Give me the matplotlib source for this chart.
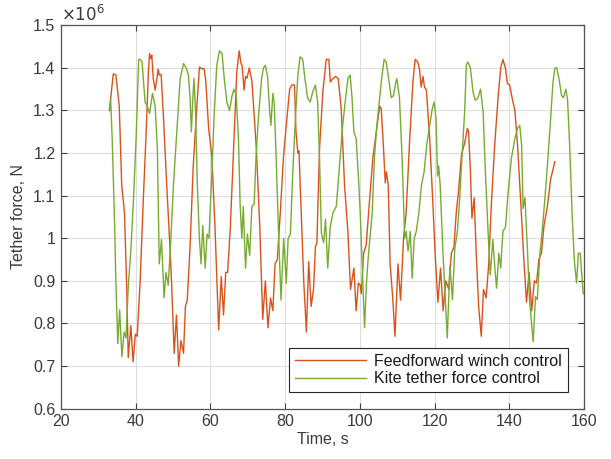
import matplotlib
matplotlib.use("Agg")
import matplotlib.pyplot as plt
import numpy as np

# Feedforward winch control (time s, force in 1e6 N)
t_ff = [32.95, 34.0, 34.7, 35.6, 36.25, 37.0, 37.6, 38.0, 38.7, 39.3, 39.9, 40.4, 41.2, 42.05, 42.8,
        43.4, 43.7, 44.0, 44.3, 44.7, 45.2, 45.6, 46.0, 46.3, 46.8, 47.4, 48.3, 49.2, 49.6, 50.3,
        50.9, 51.5, 52.1, 52.8, 53.3, 53.8, 54.55, 55.4, 56.3, 57.05, 57.7, 58.3, 58.75, 59.5, 60.4,
        61.25, 62.2, 62.9, 63.5, 64.1, 64.6, 65.3, 66.2, 67.05, 67.7, 68.2, 68.5, 69.0, 69.4, 69.8,
        70.4, 71.1, 72.3, 73.2, 74.0, 74.7, 75.4, 76.1, 76.7, 77.3, 77.9, 78.7, 79.55, 80.3, 81.2,
        81.8, 82.5, 82.9, 83.4, 83.7, 84.3, 85.0, 85.7, 86.3, 86.96, 87.6, 88.1, 88.5, 89.2, 90.1,
        91.0, 91.7, 92.1, 92.8, 93.5, 94.2, 95.0, 95.9, 96.8, 97.5, 98.4, 99.0, 99.6, 100.1, 100.4,
        101.0, 101.7, 102.6, 103.5, 104.4, 105.3, 105.7, 106.2, 106.8, 107.1, 107.6, 108.1, 108.8,
        109.4, 110.2, 110.9, 111.7, 112.4, 113.3, 114.2, 114.8, 115.5, 116.0, 116.4, 116.9, 117.3,
        117.8, 118.7, 119.55, 120.2, 120.9, 121.6, 122.3, 123.0, 123.8, 124.5, 125.2, 125.8, 126.4,
        127.2, 128.1, 128.8, 129.1, 129.6, 130.0, 130.6, 131.2, 131.8, 132.5, 133.1, 133.8, 134.5,
        135.2, 136.1, 137.0, 137.7, 138.3, 139.0, 139.5, 140.1, 140.75, 141.5, 142.2, 143.1, 143.8,
        144.6, 145.3, 146.0, 146.7, 147.3, 147.9, 148.6, 149.3, 150.2, 151.1, 152.2]
f_ff = [1.30, 1.386, 1.383, 1.31, 1.125, 1.06, 0.88, 0.72, 0.795, 0.71, 0.775, 0.77, 0.90, 1.095, 1.25,
        1.39, 1.434, 1.422, 1.43, 1.375, 1.348, 1.37, 1.397, 1.383, 1.385, 1.29, 1.125, 0.973, 0.896, 0.73,
        0.82, 0.70, 0.76, 0.73, 0.84, 0.855, 0.98, 1.17, 1.30, 1.402, 1.398, 1.398, 1.37, 1.26, 1.19,
        1.02, 0.785, 0.91, 0.82, 0.92, 0.92, 1.02, 1.21, 1.39, 1.44, 1.41, 1.405, 1.348, 1.38, 1.376,
        1.40, 1.37, 1.21, 1.03, 0.81, 0.90, 0.79, 0.86, 0.83, 0.94, 0.95, 1.06, 1.19, 1.265, 1.35,
        1.36, 1.36, 1.25, 1.20, 1.205, 1.06, 0.895, 0.78, 0.945, 0.84, 0.88, 0.98, 0.99, 1.21, 1.345,
        1.42, 1.42, 1.367, 1.375, 1.38, 1.375, 1.305, 1.125, 1.015, 0.88, 0.93, 0.83, 0.895, 0.89, 0.87,
        0.965, 0.985, 1.09, 1.19, 1.25, 1.31, 1.305, 1.234, 1.13, 1.156, 1.125, 0.94, 0.86,
        0.77, 0.94, 0.855, 1.0, 1.06, 1.225, 1.367, 1.42, 1.414, 1.395, 1.355, 1.38, 1.355,
        1.348, 1.234, 1.08, 0.955, 0.85, 0.93, 0.83, 0.90, 0.88, 0.965, 0.98, 1.06, 1.11,
        1.195, 1.226, 1.258, 1.25, 1.156, 1.047, 1.095, 0.955, 0.84, 0.77, 0.88, 0.86, 0.94,
        1.08, 1.22, 1.33, 1.40, 1.42, 1.398, 1.363, 1.36, 1.33, 1.30, 1.22, 1.08, 0.965,
        0.85, 0.92, 0.83, 0.90, 0.895, 0.95, 0.965, 1.03, 1.075, 1.14, 1.18]

# Kite tether force control (time s, force in 1e6 N)
t_kt = [33.0, 33.3, 33.7, 34.3, 34.7, 35.2, 35.7, 36.3, 36.9, 37.4, 38.0, 38.7, 39.4, 40.1, 40.8,
        41.2, 41.7, 42.5, 43.1, 43.7, 44.5, 45.2, 45.8, 46.3, 46.9, 47.6, 48.1, 48.7, 49.4, 50.1,
        51.0, 51.9, 52.8, 53.5, 54.1, 54.55, 54.9, 55.3, 55.6, 56.0, 56.5, 57.05, 57.5, 57.95, 58.6,
        59.1, 59.6, 60.4, 61.0, 61.7, 62.4, 63.1, 63.7, 64.4, 65.1, 65.8, 66.3, 66.9, 67.5, 67.95,
        68.4, 68.8, 69.4, 69.9, 70.5, 71.1, 71.7, 72.2, 72.9, 73.7, 74.2, 74.7, 75.3, 75.8, 76.2,
        76.7, 77.05, 77.6, 78.2, 78.9, 79.6, 80.3, 80.8, 81.4, 82.05, 82.8, 83.4, 84.0, 84.7, 85.3,
        86.0, 86.7, 87.4, 88.1, 88.7, 89.2, 89.7, 90.3, 90.8, 91.4, 92.05, 92.8, 93.7, 94.55, 95.4,
        96.2, 96.8, 97.4, 97.9, 98.4, 99.0, 99.55, 100.1, 100.6, 101.25, 101.8, 102.2, 102.7, 103.3,
        103.9, 104.55, 105.3, 105.9, 106.5, 107.05, 107.7, 108.4, 109.0, 109.55, 109.9, 110.6, 111.3,
        112.0, 112.4, 112.9, 113.5, 114.0, 114.55, 115.1, 115.8, 116.5, 117.2, 117.9, 118.7, 119.4,
        119.9, 120.4, 120.8, 121.1, 121.5, 122.2, 122.9, 123.4, 124.1, 124.8, 125.4, 126.1, 126.7,
        127.4, 128.05, 128.5, 128.9, 129.6, 130.3, 130.9, 131.6, 132.3, 133.0, 133.6, 134.3, 134.9,
        135.6, 136.1, 136.6, 137.2, 137.7, 138.3, 139.0, 139.7, 140.6, 141.5, 142.2, 142.8, 143.3,
        143.7, 144.2, 144.9, 145.4, 146.4, 147.0, 147.5, 148.2, 148.8, 149.5, 150.2, 150.95, 151.7,
        152.2, 152.7, 153.3, 154.0, 154.5, 155.15, 155.6, 156.2, 156.85, 157.4, 158.0, 158.5, 159.0,
        159.35, 159.8]
f_kt = [1.30, 1.324, 1.234, 1.05, 0.895, 0.753, 0.832, 0.722, 0.78, 0.766, 0.886, 0.973, 1.09, 1.234, 1.42,
        1.42, 1.414, 1.32, 1.31, 1.293, 1.34, 1.31, 1.21, 0.94, 0.997, 0.86, 0.92, 0.89, 0.997, 1.125,
        1.25, 1.375, 1.41, 1.40, 1.383, 1.33, 1.25, 1.33, 1.375, 1.30, 1.125, 1.0, 0.94, 1.03, 0.93,
        1.01, 1.0, 1.156, 1.29, 1.406, 1.44, 1.434, 1.375, 1.32, 1.30, 1.335, 1.35, 1.335, 1.234, 1.08,
        1.0, 1.075, 0.93, 1.01, 0.96, 1.075, 1.08, 1.19, 1.29, 1.375, 1.40, 1.406, 1.38, 1.305, 1.265,
        1.34, 1.32, 1.19, 1.02, 0.855, 1.0, 0.895, 1.0, 1.01, 1.156, 1.29, 1.383, 1.426, 1.42, 1.375,
        1.33, 1.32, 1.344, 1.36, 1.32, 1.19, 1.012, 0.99, 1.045, 0.93, 1.025, 1.06, 1.075, 1.17, 1.265,
        1.33, 1.375, 1.383, 1.33, 1.25, 1.234, 1.156, 1.06, 0.94, 0.79, 0.90, 0.95, 1.0, 1.06,
        1.19, 1.265, 1.33, 1.38, 1.42, 1.414, 1.375, 1.33, 1.335, 1.363, 1.375, 1.33, 1.19,
        1.0, 1.016, 0.97, 1.016, 0.906, 1.0, 1.016, 1.06, 1.125, 1.156, 1.22, 1.265, 1.305,
        1.32, 1.28, 1.146, 1.17, 1.125, 0.975, 0.856, 0.766, 0.935, 0.856, 0.975, 1.016, 1.09,
        1.20, 1.297, 1.406, 1.414, 1.40, 1.343, 1.324, 1.33, 1.35, 1.297, 1.156, 1.02, 0.914,
        0.997, 0.935, 0.883, 0.965, 0.93, 1.016, 1.027, 1.11, 1.19, 1.234, 1.258, 1.265, 1.22,
        1.07, 1.095, 0.965, 0.856, 0.757, 0.863, 0.856, 0.965, 1.016, 1.09, 1.17, 1.265, 1.367,
        1.40, 1.40, 1.375, 1.335, 1.33, 1.35, 1.325, 1.21, 1.05, 0.95, 0.895, 0.965, 0.965,
        0.92, 0.87]

x_ticks = [20, 40, 60, 80, 100, 120, 140, 160]
y_ticks = [0.6, 0.7, 0.8, 0.9, 1.0, 1.1, 1.2, 1.3, 1.4, 1.5]
labels = ["Feedforward winch control", "Kite tether force control"]

plt.rcParams['font.family'] = ['Liberation Sans', 'DejaVu Sans']

fig = plt.figure(figsize=(6.11, 4.59), dpi=100)
ax = fig.add_axes([61/611, 1-408.7/459, 523/611, 383.4/459])

c_ff = '#D95319'
c_kt = '#77AC30'
ax.plot(t_ff, f_ff, color=c_ff, lw=1.0, label=labels[0])
ax.plot(t_kt, f_kt, color=c_kt, lw=1.0, label=labels[1])

txt = '#3a3a3a'
ax.set_xlim(20, 160)
ax.set_ylim(0.6, 1.5)
ax.set_xticks(x_ticks)
ax.set_yticks(y_ticks)
ax.set_yticklabels(['%g' % v for v in y_ticks])
ax.grid(True, color='#dedede', lw=0.8)
ax.set_axisbelow(True)
ax.tick_params(direction='in', length=4, width=0.8, colors='#404040', labelsize=11.5,
               top=True, right=True, labelcolor=txt, pad=4)
for s in ax.spines.values():
    s.set_color('#555555')
    s.set_linewidth(0.9)
ax.set_xlabel('Time, s', fontsize=11.5, color=txt, labelpad=2)
ax.set_ylabel('Tether force, N', fontsize=11.5, color=txt, labelpad=5)
ax.text(0.0, 1.004, r'$\times10^{6}$', transform=ax.transAxes, fontsize=12,
        color=txt, ha='left', va='bottom')

leg = ax.legend(loc='lower right', bbox_to_anchor=(0.969, 0.044), borderaxespad=0,
                fontsize=11.5, handlelength=4.5, handletextpad=0.5, fancybox=False,
                framealpha=1, edgecolor='#262626', borderpad=0.35, labelspacing=0.15)
leg.get_frame().set_linewidth(0.8)
for t in leg.get_texts():
    t.set_color('#1a1a1a')

fig.savefig('out.png', dpi=100)
